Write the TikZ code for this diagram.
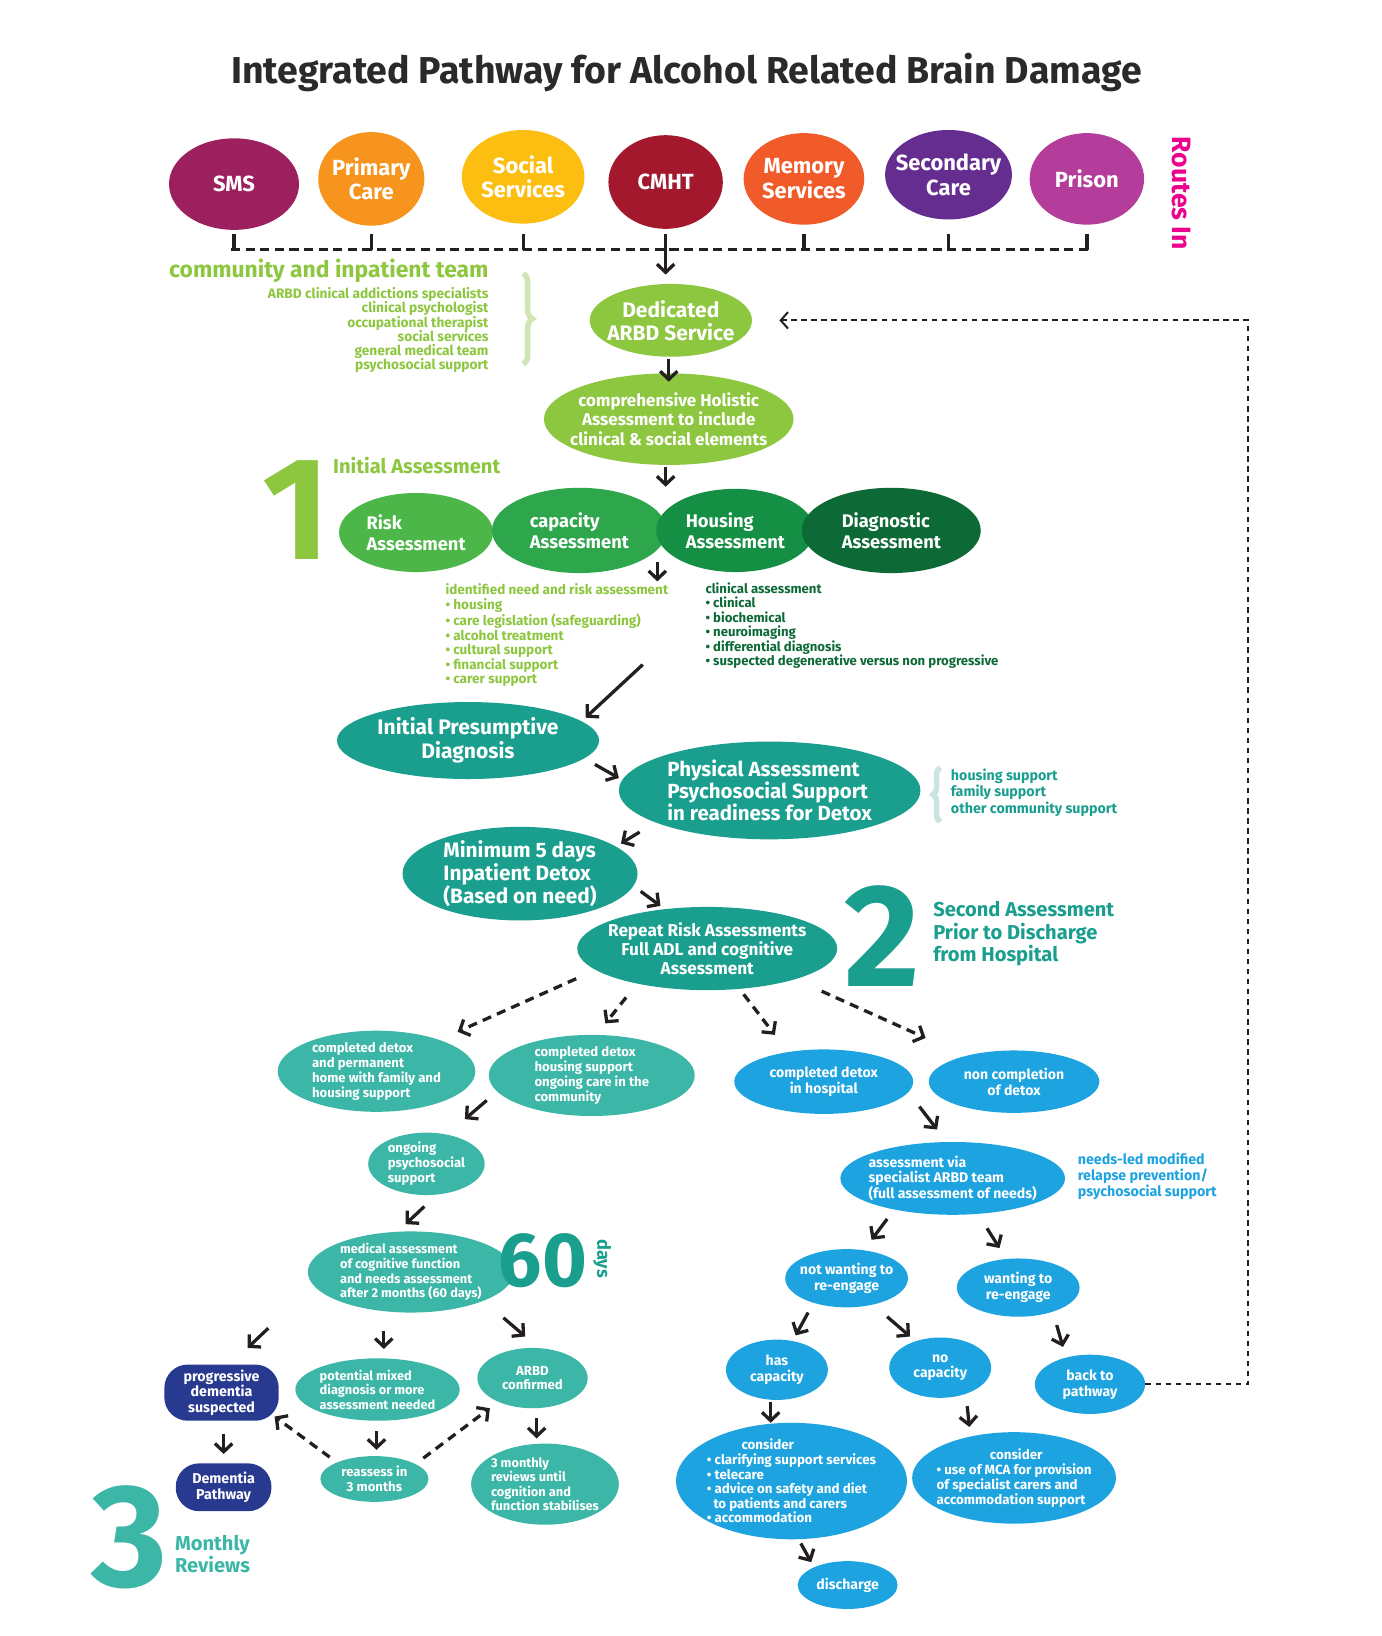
\documentclass[tikz,border=0pt]{standalone}
\usepackage{fontspec}
\setmainfont{Fira Sans}
\usetikzlibrary{shapes.geometric,arrows.meta,decorations.pathreplacing}
\definecolor{cSMS}{HTML}{9C1F5E}
\definecolor{cPrim}{HTML}{F7941D}
\definecolor{cSoc}{HTML}{FDBE12}
\definecolor{cCMHT}{HTML}{A3182D}
\definecolor{cMem}{HTML}{F15A29}
\definecolor{cSec}{HTML}{662D91}
\definecolor{cPris}{HTML}{B43C9B}
\definecolor{cRoutes}{HTML}{EC008C}
\definecolor{cLG}{HTML}{8DC63F}
\definecolor{cRisk}{HTML}{4CB748}
\definecolor{cCap}{HTML}{2EA64B}
\definecolor{cHous}{HTML}{158F44}
\definecolor{cDiag}{HTML}{0D6A36}
\definecolor{cTeal}{HTML}{1A9F8F}
\definecolor{cTealL}{HTML}{3CB7A7}
\definecolor{cBlue}{HTML}{1CA3E0}
\definecolor{cNavy}{HTML}{283A8F}
\definecolor{cBraceG}{HTML}{CFE5B4}
\definecolor{cBraceT}{HTML}{C9E4E1}
\definecolor{cArr}{HTML}{231F20}
\definecolor{cTitle}{HTML}{2A2A2A}
\begin{document}
\begin{tikzpicture}[x=0.02cm,y=-0.02cm,
  blob/.style={ellipse,fill=#1,text=white,align=center,inner sep=-10pt},
  rblob/.style={rectangle,rounded corners=0.45cm,fill=#1,text=white,align=center,inner sep=-10pt},
  sz/.style 2 args={minimum width=#1*0.02cm,minimum height=#2*0.02cm},
  fs/.style 2 args={font=\bfseries\fontsize{#1}{#2}\selectfont},
  lbl/.style={inner sep=0pt,align=left},
  tfs/.style={fs={7.2}{8.1}},
  bfs/.style={fs={7.7}{8.7}},
  arr/.style={draw=cArr,line width=1.8pt,-{Straight Barb[length=4.5pt,width=9.5pt]}},
  darr/.style={arr,dash pattern=on 5pt off 3.5pt},
  bus/.style={draw=cArr,line width=1.8pt,dash pattern=on 5pt off 3pt},
  fback/.style={draw=cArr,line width=1.1pt,dash pattern=on 3pt off 2.5pt,-{Straight Barb[length=4pt,width=9pt]}}
]
\fill[white] (0,0) rectangle (1328,1573);
\useasboundingbox (0,0) rectangle (1328,1573);

% title
\node[fs={20.5}{23},text=cTitle,inner sep=0pt] (title) at (660,70) {Integrated Pathway for Alcohol Related Brain Damage};

% routes in
\node[blob=cSMS,sz={125}{88},fs={12}{13.5}] (sms) at (225,177) {SMS};
\node[blob=cPrim,sz={102}{90},fs={12}{13.5}] (prim) at (357,172) {Primary\\Care};
\node[blob=cSoc,sz={118}{90},fs={12}{13.5}] (soc) at (503,170) {Social\\Services};
\node[blob=cCMHT,sz={110}{90},fs={12}{13.5}] (cmht) at (640,175) {CMHT};
\node[blob=cMem,sz={116}{88},fs={12}{13.5}] (mem) at (773,172) {Memory\\Services};
\node[blob=cSec,sz={122}{86},fs={12}{13.5}] (sec) at (912,168) {Secondary\\Care};
\node[blob=cPris,sz={110}{88},fs={12}{13.5}] (pris) at (1045,172) {Prison};
\node[fs={14.5}{15},text=cRoutes,rotate=-90,inner sep=0pt] (routes) at (1136,186) {Routes In};

\coordinate (busL) at (222,240);
\coordinate (busR) at (1047,240);
\draw[bus] (busL) -- (busR);
\foreach \n in {sms,prim,soc,cmht,mem,sec,pris}
  \draw[draw=cArr,line width=1.8pt] (\n.south |- busL) -- ++(0,-15);

% community team
\node[fs={12.5}{14},text=cLG,anchor=north east,inner sep=0pt] (team) at (470,249) {community and inpatient team};
\node[fs={7.5}{7.8},text=cLG,anchor=north east,align=right,inner sep=0pt] (teamlist) at (470,276)
 {ARBD clinical addictions specialists\\clinical psychologist\\occupational therapist\\social services\\general medical team\\psychosocial support};
\draw[draw=cBraceG,line width=3pt,decorate,decoration={brace,amplitude=5pt}] (503,263) -- (503,350);

% dedicated service
\node[blob=cLG,sz={156}{70},fs={11.5}{12.5}] (arbd) at (645,308) {Dedicated\\ARBD Service};
\node[blob=cLG,sz={240}{88},fs={9.3}{10.5}] (comp) at (643,403) {comprehensive Holistic\\Assessment to include\\clinical \& social elements};

% initial assessment
\node[fs={80}{80},text=cLG,inner sep=0pt] (one) at (285,490) {1};
\node[fs={11}{12},text=cLG,anchor=west,inner sep=0pt] (ia) at (320,448) {Initial Assessment};
\node[blob=cRisk,sz={148}{76},fs={10}{11.5},align=left] (risk) at (400,512) {Risk\\Assessment};
\node[blob=cCap,sz={168}{82},fs={10}{11.5},align=left] (cap) at (557,510) {capacity\\Assessment};
\node[blob=cHous,sz={152}{80},fs={10}{11.5},align=left] (hous) at (707,510) {Housing\\Assessment};
\node[blob=cDiag,sz={172}{82},fs={10}{11.5},align=left] (diag) at (857,510) {Diagnostic\\Assessment};

\node[fs={7.4}{7.9},text=cLG,lbl,anchor=north west] (lista) at (428,561)
 {identified need and risk assessment\\• housing\\• care legislation (safeguarding)\\• alcohol treatment\\• cultural support\\• financial support\\• carer support};
\node[fs={7.2}{7.9},text=cDiag,lbl,anchor=north west] (listb) at (678,560)
 {clinical assessment\\• clinical\\• biochemical\\• neuroimaging\\• differential diagnosis\\• suspected degenerative versus non progressive};

% teal section
\node[blob=cTeal,sz={252}{74},fs={11.5}{13}] (ipd) at (450,712) {Initial Presumptive\\Diagnosis};
\node[blob=cTeal,sz={290}{94},fs={11.2}{12.2},align=left] (phys) at (740,760) {Physical Assessment\\Psychosocial Support\\in readiness for Detox};
\draw[draw=cBraceT,line width=3pt,decorate,decoration={brace,amplitude=4pt}] (904,790) -- (904,738);
\node[fs={7.8}{8},text=cTeal,lbl,anchor=west] (physside) at (914,762) {housing support\\family support\\other community support};
\node[blob=cTeal,sz={226}{90},fs={11.4}{12.4},align=left] (mini) at (500,840) {Minimum 5 days\\Inpatient Detox\\(Based on need)};
\node[blob=cTeal,sz={250}{80},fs={9.4}{10.4}] (rep) at (680,912) {Repeat Risk Assessments\\Full ADL and cognitive\\Assessment};
\node[fs={80}{80},text=cTeal,inner sep=0pt] (two) at (848,900) {2};
\node[fs={11}{12.3},text=cTeal,lbl,anchor=west] (second) at (897,898) {Second Assessment\\Prior to Discharge\\from Hospital};

% after second assessment
\node[blob=cTealL,sz={190}{78},tfs,align=left] (nA) at (362,1030) {completed detox\\and permanent\\home with family and\\housing support};
\node[blob=cTealL,sz={198}{78},tfs,align=left] (nB) at (569,1034) {completed detox\\housing support\\ongoing care in the\\community};
\node[blob=cBlue,sz={172}{62},bfs] (nC) at (792,1040) {completed detox\\in hospital};
\node[blob=cBlue,sz={164}{60},bfs] (nD) at (975,1040) {non completion\\of detox};

\node[blob=cTealL,sz={112}{60},tfs,align=left] (ongo) at (410,1119) {ongoing\\psychosocial\\support};
\node[blob=cTealL,sz={198}{78},fs={7}{8},align=left] (med) at (395,1223) {medical assessment\\of cognitive function\\and needs assessment\\after 2 months (60 days)};
\node[fs={42}{42},text=cTeal,inner sep=0pt] (sixty) at (522,1212) {60};
\node[fs={10}{11},text=cTeal,rotate=-90,inner sep=0pt] (days) at (579,1210) {days};

\node[rblob=cNavy,sz={110}{54},fs={7.8}{8.6}] (prog) at (213,1339) {progressive\\dementia\\suspected};
\node[blob=cTealL,sz={158}{60},fs={7}{7.9},align=left] (pot) at (363,1336) {potential mixed\\diagnosis or more\\assessment needed};
\node[blob=cTealL,sz={106}{58},tfs] (conf) at (512,1325) {ARBD\\confirmed};
\node[rblob=cNavy,sz={92}{46},fs={7.8}{8.6}] (dem) at (215,1430) {Dementia\\Pathway};
\node[blob=cTealL,sz={104}{44},tfs] (reas) at (360,1422) {reassess in\\3 months};
\node[blob=cTealL,sz={142}{78},fs={7}{7.9},align=left] (tm) at (524,1427) {3 monthly\\reviews until\\cognition and\\function stabilises};
\node[fs={80}{80},text=cTealL,inner sep=0pt] (three) at (125,1478) {3};
\node[fs={11}{12.3},text=cTealL,lbl,anchor=west] (monthly) at (168,1494) {Monthly\\Reviews};

% blue branch
\node[blob=cBlue,sz={216}{70},bfs,align=left] (asv) at (916,1133) {assessment via\\specialist ARBD team\\(full assessment of needs)};
\node[fs={7.8}{8.7},text=cBlue,lbl,anchor=west] (asvside) at (1036,1131) {needs-led modified\\relapse prevention/\\psychosocial support};
\node[blob=cBlue,sz={118}{56},bfs] (notw) at (814,1229) {not wanting to\\re-engage};
\node[blob=cBlue,sz={118}{56},bfs] (want) at (979,1238) {wanting to\\re-engage};
\node[blob=cBlue,sz={98}{58},bfs] (has) at (747,1317) {has\\capacity};
\node[blob=cBlue,sz={98}{58},bfs] (noc) at (904,1315) {no\\capacity};
\node[blob=cBlue,sz={106}{57},bfs] (back) at (1048,1331) {back to\\pathway};
\node[blob=cBlue,sz={222}{112},fs={7.3}{8},align=left] (consL) at (761,1424) {\hspace*{2.6em}consider\\• clarifying support services\\• telecare\\• advice on safety and diet\\\hspace*{0.5em}to patients and carers\\• accommodation};
\node[blob=cBlue,sz={196}{88},fs={7.3}{8.2},align=left] (consR) at (975,1421) {\hspace*{4em}consider\\• use of MCA for provision\\of specialist carers and\\accommodation support};
\node[blob=cBlue,sz={96}{46},bfs] (dis) at (815,1524) {discharge};

% connectors
\draw[arr] (cmht.south |- busL) -- ([shift={(-5,-44)}]arbd.center);
\draw[arr] ([shift={(-2,37)}]arbd.center) -- ([shift={(0,-36)}]comp.center);
\draw[arr] ([shift={(-3,46)}]comp.center) -- ([shift={(83,-42)}]cap.center);
\draw[arr] ([shift={(75,30)}]cap.center) -- ([shift={(204,-2)}]lista.north west);
\draw[arr] ([shift={(190,78)}]lista.north west) -- ([shift={(113,-22)}]ipd.center);
\draw[arr] ([shift={(122,23)}]ipd.center) -- ([shift={(-145,-12)}]phys.center);
\draw[arr] ([shift={(-125,40)}]phys.center) -- ([shift={(97,-29)}]mini.center);
\draw[arr] ([shift={(116,17)}]mini.center) -- ([shift={(-45,-41)}]rep.center);
\draw[darr] ([shift={(-126,29)}]rep.center) -- ([shift={(78,-38)}]nA.center);
\draw[darr] ([shift={(-78,47)}]rep.center) -- ([shift={(13,-50)}]nB.center);
\draw[darr] ([shift={(35,44)}]rep.center) -- ([shift={(-47,-45)}]nC.center);
\draw[darr] ([shift={(110,41)}]rep.center) -- ([shift={(-85,-42)}]nD.center);
\draw[arr] ([shift={(106,28)}]nA.center) -- ([shift={(37,-43)}]ongo.center);
\draw[arr] ([shift={(-2,41)}]ongo.center) -- ([shift={(-5,-46)}]med.center);
\draw[arr] ([shift={(-137,54)}]med.center) -- ([shift={(25,-43)}]prog.center);
\draw[arr] ([shift={(-26,57)}]med.center) -- ([shift={(6,-39)}]pot.center);
\draw[arr] ([shift={(89,44)}]med.center) -- ([shift={(-7,-40)}]conf.center);
\draw[arr] ([shift={(2,40)}]prog.center) -- ([shift={(0,-32)}]dem.center);
\draw[arr] ([shift={(-1,40)}]pot.center) -- ([shift={(2,-28)}]reas.center);
\draw[darr] ([shift={(-43,-21)}]reas.center) -- ([shift={(51,23)}]prog.center);
\draw[darr] ([shift={(47,-20)}]reas.center) -- ([shift={(-41,29)}]conf.center);
\draw[arr] ([shift={(4,38)}]conf.center) -- ([shift={(-8,-44)}]tm.center);
\draw[arr] ([shift={(-91,24)}]nD.center) -- ([shift={(-15,-47)}]asv.center);
\draw[arr] ([shift={(-63,39)}]asv.center) -- ([shift={(24,-37)}]notw.center);
\draw[arr] ([shift={(33,48)}]asv.center) -- ([shift={(-18,-38)}]want.center);
\draw[arr] ([shift={(-37,33)}]notw.center) -- ([shift={(18,-33)}]has.center);
\draw[arr] ([shift={(39,37)}]notw.center) -- ([shift={(-29,-30)}]noc.center);
\draw[arr] ([shift={(37,36)}]want.center) -- ([shift={(-26,-36)}]back.center);
\draw[arr] ([shift={(-6,31)}]has.center) -- ([shift={(-20,-56)}]consL.center);
\draw[arr] ([shift={(26,37)}]noc.center) -- ([shift={(-43,-49)}]consR.center);
\draw[arr] ([shift={(9,60)}]consL.center) -- ([shift={(-35,-22)}]dis.center);
\coordinate (fbcorner) at (1200,308);
\draw[fback] (back.east) -| (fbcorner) -- ([xshift=0.52cm]arbd.east);
\end{tikzpicture}
\end{document}
